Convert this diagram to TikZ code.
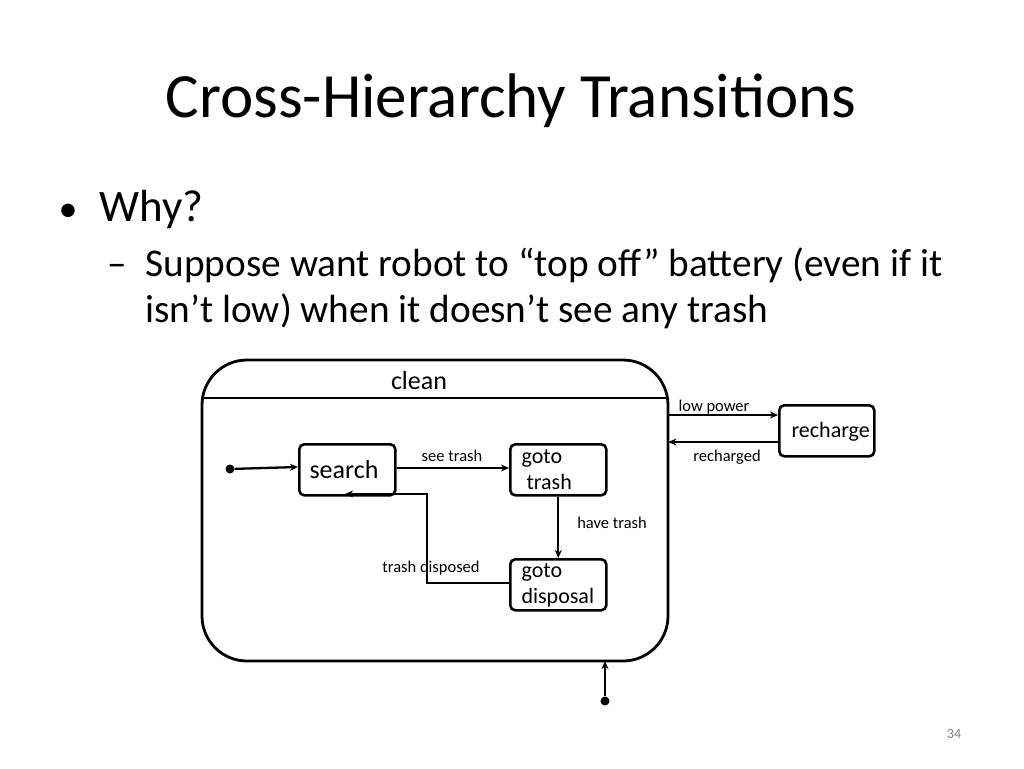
\documentclass[tikz,border=0pt]{standalone}
\usepackage{fontspec}
\setmainfont{Carlito}
\usetikzlibrary{arrows.meta}
\begin{document}
\begin{tikzpicture}[x=1pt,y=-1pt,
  st/.style={draw,line width=2.6pt,rounded corners=5pt,inner sep=0pt},
  ar/.style={line width=2.3pt,-{Stealth[length=8pt,width=7pt]}},
  lab/.style={font=\fontsize{16.5}{18}\selectfont,inner sep=1pt},
  dot/.style={circle,fill,inner sep=0pt,minimum size=9pt}]
\useasboundingbox (0,0) rectangle (1024,768);
\node[font=\fontsize{63}{70}\selectfont] (title) at (511,101) {Cross-Hierarchy Transitions};
\node[font=\fontsize{38}{50}\selectfont,anchor=base west] (b1) at (55,221) {•};
\node[font=\fontsize{45}{50}\selectfont,anchor=base west] (t1) at (96,221) {Why?};
\node[font=\fontsize{39}{46}\selectfont,anchor=base west] (d1) at (104,276) {–};
\node[font=\fontsize{39.3}{46}\selectfont,anchor=base west] (t2) at (142,276) {Suppose want robot to “top off” battery (even if it};
\node[font=\fontsize{39.3}{46}\selectfont,anchor=base west] (t3) at (142,322) {isn’t low) when it doesn’t see any trash};
% clean superstate
\draw[line width=2.8pt,rounded corners=45pt] (202,360) rectangle (668,661);
\node[draw=none,inner sep=0pt,minimum width=466pt,minimum height=301pt,anchor=north west] (clean) at (202,360) {};
\draw[line width=2.6pt] (202,398) -- (668,398);
\node[font=\fontsize{26}{28}\selectfont] (cleanl) at (419,381) {clean};
% states
\node[st,minimum width=96pt,minimum height=51pt,anchor=north west] (search) at (298,443) {};
\node[font=\fontsize{26}{28}\selectfont] at (344,470) {search};
\node[st,minimum width=96pt,minimum height=51pt,anchor=north west] (gt) at (509,443) {};
\node[font=\fontsize{22}{26}\selectfont,anchor=west,align=left] at (518,470) {goto\\\ trash};
\node[st,minimum width=96pt,minimum height=51pt,anchor=north west] (gd) at (509,558) {};
\node[font=\fontsize{22}{26}\selectfont,anchor=west,align=left] at (518,585) {goto\\disposal};
\node[st,minimum width=95pt,minimum height=51pt,anchor=north west] (rc) at (778,404) {};
\node[font=\fontsize{22}{24}\selectfont,anchor=west] at (788,432) {recharge};
% connectors
\node[dot] (init) at (230,469) {};
\draw[ar] (init) -- (search.west |- 0,467);
\draw[ar] (search.east |- 0,468) -- (gt.west |- 0,468);
\node[lab] at (452,456) {see trash};
\draw[ar] (gt.south) -- (gd.north);
\node[lab] at (612,523) {have trash};
\coordinate (c1) at (427,583);
\coordinate (c2) at (427,494);
\coordinate (c3) at (345,494);
\draw[ar] (gd.west |- 0,583) -- (c1) -- (c2) -- (c3);
\node[lab] at (431,568) {trash disposed};
\draw[ar] (clean.east |- 0,415) -- (rc.west |- 0,415);
\node[lab] at (714,407) {low power};
\draw[ar] (rc.west |- 0,442) -- (clean.east |- 0,442);
\node[lab] at (727,457) {recharged};
\node[dot] (init2) at (605,701) {};
\draw[ar] (init2) -- (605,661);
\node[font=\fontsize{14}{16}\selectfont,text=gray] (pg) at (954,734) {34};
\end{tikzpicture}
\end{document}
